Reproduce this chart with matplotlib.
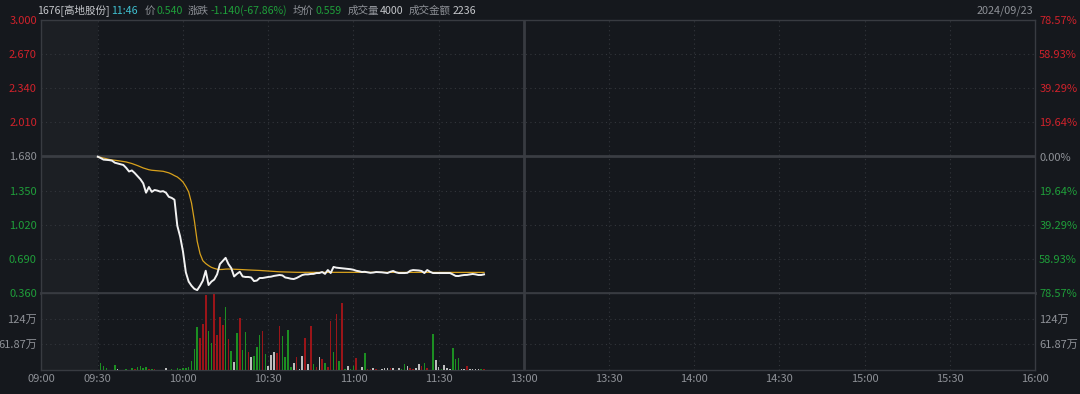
import matplotlib
matplotlib.use("Agg")
import matplotlib.pyplot as plt

plt.rcParams['font.family'] = ['Noto Sans CJK SC', 'DejaVu Sans']

BG = '#15181d'
PRE = '#1c1f24'
GRID = '#33363c'
TXT = '#8e9197'
RED = '#d0222b'
GREEN = '#1f9e3a'

# minute index from 09:30 (lunch break removed, 12:00 == 13:00)
price = [
    1.678, 1.665, 1.650, 1.648, 1.645, 1.640, 1.620, 1.612, 1.605, 1.598,
    1.570, 1.535, 1.545, 1.520, 1.490, 1.460, 1.420, 1.330, 1.385, 1.338,
    1.356, 1.350, 1.340, 1.345, 1.330, 1.290, 1.280, 1.262, 1.010, 0.905,
    0.760, 0.560, 0.470, 0.430, 0.400, 0.388, 0.430, 0.480, 0.575, 0.437,
    0.470, 0.490, 0.540, 0.640, 0.670, 0.700, 0.640, 0.600, 0.520, 0.545,
    0.565, 0.520, 0.515, 0.515, 0.510, 0.475, 0.480, 0.505, 0.505, 0.510,
    0.515, 0.518, 0.525, 0.530, 0.534, 0.530, 0.510, 0.505, 0.498, 0.495,
    0.505, 0.520, 0.534, 0.540, 0.540, 0.544, 0.545, 0.553, 0.553, 0.563,
    0.545, 0.582, 0.553, 0.612, 0.605, 0.602, 0.598, 0.595, 0.592, 0.590,
    0.585, 0.575, 0.570, 0.563, 0.565, 0.560, 0.555, 0.558, 0.563, 0.562,
    0.560, 0.556, 0.553, 0.565, 0.573, 0.560, 0.553, 0.553, 0.553, 0.555,
    0.575, 0.582, 0.580, 0.578, 0.573, 0.553, 0.582, 0.565, 0.553, 0.553,
    0.553, 0.553, 0.553, 0.553, 0.553, 0.540, 0.525, 0.524, 0.530, 0.534,
    0.535, 0.540, 0.544, 0.540, 0.534, 0.534, 0.540,
]

avg_price = [
    1.675, 1.672, 1.665, 1.658, 1.652, 1.647, 1.644, 1.640, 1.636, 1.631,
    1.627, 1.620, 1.612, 1.602, 1.592, 1.580, 1.569, 1.560, 1.552, 1.547,
    1.544, 1.542, 1.540, 1.537, 1.530, 1.522, 1.510, 1.495, 1.482, 1.460,
    1.433, 1.390, 1.337, 1.230, 1.060, 0.860, 0.740, 0.672, 0.645, 0.625,
    0.608, 0.598, 0.590, 0.587, 0.588, 0.591, 0.592, 0.591, 0.589, 0.588,
    0.587, 0.586, 0.584, 0.583, 0.582, 0.581, 0.580, 0.578, 0.576, 0.574,
    0.572, 0.570, 0.568, 0.566, 0.565, 0.564, 0.563, 0.562, 0.561, 0.560,
    0.560, 0.560, 0.560, 0.560, 0.560, 0.560, 0.560, 0.560, 0.560, 0.560,
    0.560, 0.560, 0.560, 0.561, 0.561, 0.561, 0.561, 0.561, 0.561, 0.561,
    0.561, 0.561, 0.561, 0.561, 0.561, 0.561, 0.561, 0.561, 0.561, 0.561,
    0.561, 0.561, 0.561, 0.561, 0.561, 0.561, 0.560, 0.560, 0.560, 0.560,
    0.560, 0.560, 0.560, 0.560, 0.560, 0.560, 0.560, 0.560, 0.560, 0.560,
    0.560, 0.560, 0.560, 0.560, 0.560, 0.560, 0.560, 0.560, 0.559, 0.559,
    0.559, 0.559, 0.559, 0.559, 0.559, 0.559, 0.559,
]

# volume in 万 shares, one bar per minute
volume = [
    0, 17, 10, 5, 0, 0, 12, 2.5, 0, 0,
    2.5, 0, 5, 2.5, 7, 10, 5, 7, 2.5, 2.5,
    2.5, 0, 0, 0, 5, 0, 2.5, 0, 5, 2.5,
    4, 5, 7, 22, 51, 104, 77, 111, 181, 94,
    65, 184, 84, 128, 108, 152, 75, 46, 19, 89,
    125, 48, 92, 43, 31, 34, 55, 84, 94, 39,
    10, 36, 43, 41, 106, 82, 31, 96, 7, 17,
    31, 2.5, 34, 77, 14, 106, 14, 7, 31, 27,
    17, 7, 118, 43, 135, 22, 161, 2.5, 10, 2.5,
    10, 29, 0, 7, 41, 2.5, 2.5, 5, 2.5, 0,
    2.5, 5, 5, 5, 5, 0, 5, 2.5, 14, 10,
    5, 2.5, 5, 14, 10, 17, 5, 0, 87, 24,
    7, 2.5, 12, 5, 2.5, 53, 27, 29, 2.5, 2.5,
    10, 2.5, 2.5, 2.5, 2.5, 2.5, 2.5,
]
# r = up, g = down, w = unchanged
vol_colors = (
    "gggggggwgg"
    "gggrggggrg"
    "rgggwggggg"
    "ggggggrrrg"
    "grrrrgrgwg"
    "rggrwgggrg"
    "wwwrrggggw"
    "rwwrwrgrwr"
    "grrgrgrgwg"
    "grwwgrrwrw"
    "wwwrwwwggw"
    "rrwwrgrwgw"
    "wgwwwgggww"
    "rwwwwgr"
)

time_ticks = [-20, 0, 30, 60, 90, 120, 150, 180, 210, 240, 270, 300, 330]
time_labels = ['09:00', '09:30', '10:00', '10:30', '11:00', '11:30', '13:00',
               '13:30', '14:00', '14:30', '15:00', '15:30', '16:00']
price_ticks = [0.36, 0.69, 1.02, 1.35, 1.68, 2.01, 2.34, 2.67, 3.0]
price_labels = ['0.360', '0.690', '1.020', '1.350', '1.680', '2.010', '2.340', '2.670', '3.000']
pct_labels = ['78.57%', '58.93%', '39.29%', '19.64%', '0.00%', '19.64%', '39.29%', '58.93%', '78.57%']
prev_close = 1.68
vol_ticks = [61.87, 124]
vol_labels = ['61.87万', '124万']

fig = plt.figure(figsize=(10.8, 3.94), dpi=100, facecolor=BG)
ax = fig.add_axes([41 / 1080, 1 - 293 / 394, 994 / 1080, 273 / 394])
axv = fig.add_axes([41 / 1080, 1 - 370 / 394, 994 / 1080, 77 / 394])

for a in (ax, axv):
    a.set_facecolor(BG)
    a.set_xlim(-20, 330)
    a.axvspan(-20, 0, color=PRE, zorder=0, lw=0)
    for t in time_ticks[1:-1]:
        if t == 150:
            a.axvline(t, color='#383b41', lw=2, zorder=1)
        else:
            a.axvline(t, color=GRID, lw=0.8, ls=(0, (1, 3)), zorder=1)
    for s in a.spines.values():
        s.set_color('#383b41')
        s.set_linewidth(1)

# price panel
ax.set_ylim(0.36, 3.0)
for p in price_ticks[1:-1]:
    if p == prev_close:
        ax.axhline(p, color='#3a3d43', lw=2, zorder=1)
    else:
        ax.axhline(p, color=GRID, lw=0.8, ls=(0, (1, 3)), zorder=1)
ax.spines['bottom'].set_linewidth(2)
ax.set_xticks([])
ax.set_yticks(price_ticks)
ax.set_yticklabels(price_labels)
ax.tick_params(axis='y', length=0, pad=3, labelsize=8)

x = list(range(len(price)))
ax.plot(x, avg_price, color='#d8a11c', lw=0.9, zorder=3)
ax.plot(x, price, color='#f2f2f2', lw=1.4, zorder=4)

axr = ax.twinx()
axr.set_ylim(0.36, 3.0)
axr.set_yticks(price_ticks)
axr.set_yticklabels(pct_labels)
axr.tick_params(axis='y', length=0, pad=3, labelsize=8)
for s in axr.spines.values():
    s.set_visible(False)

for labs in (ax.get_yticklabels(), axr.get_yticklabels()):
    for p, lab in zip(price_ticks, labs):
        if p > prev_close:
            lab.set_color(RED)
        elif p < prev_close:
            lab.set_color(GREEN)
        else:
            lab.set_color(TXT)

# volume panel
vmax = 185.6
axv.set_ylim(0, vmax)
for v in vol_ticks:
    axv.axhline(v, color=GRID, lw=0.8, ls=(0, (1, 3)), zorder=1)
cmap = {'r': '#9a1519', 'g': '#1c8f22', 'w': '#bdbdbd'}
axv.bar(x, volume, width=0.55, color=[cmap[c] for c in vol_colors], lw=0, zorder=3)
axv.set_yticks(vol_ticks)
axv.set_yticklabels(vol_labels)
axv.tick_params(axis='y', length=0, pad=3, labelsize=8, colors=TXT)
axv.set_xticks(time_ticks)
axv.set_xticklabels(time_labels)
axv.tick_params(axis='x', length=0, pad=3, labelsize=8, colors=TXT)
axvr = axv.twinx()
axvr.set_ylim(0, vmax)
axvr.set_yticks(vol_ticks)
axvr.set_yticklabels(vol_labels)
axvr.tick_params(axis='y', length=0, pad=3, labelsize=8, colors=TXT)
for s in axvr.spines.values():
    s.set_visible(False)

# header line, pieces laid out one after another
hy = 1 - 11 / 394
header = [
    ('1676[高地股份]', '#c4c6ca', 1),
    ('11:46', '#3fc0d0', 7),
    ('价', TXT, 2),
    ('0.540', GREEN, 5),
    ('涨跌', TXT, 2),
    ('-1.140(-67.86%)', GREEN, 5),
    ('均价', TXT, 2),
    ('0.559', GREEN, 6),
    ('成交量', TXT, 1),
    ('4000', '#c4c6ca', 5),
    ('成交金额', TXT, 2),
    ('2236', '#c4c6ca', 0),
]
renderer = fig.canvas.get_renderer()
hx = 37
for s, c, gap in header:
    t = fig.text(hx / 1080, hy, s, color=c, fontsize=7.6, va='center', ha='left')
    hx = t.get_window_extent(renderer).x1 + gap
fig.text(1033 / 1080, hy, '2024/09/23', color=TXT, fontsize=7.8, va='center', ha='right')

fig.savefig('out.png', dpi=100, facecolor=BG)
